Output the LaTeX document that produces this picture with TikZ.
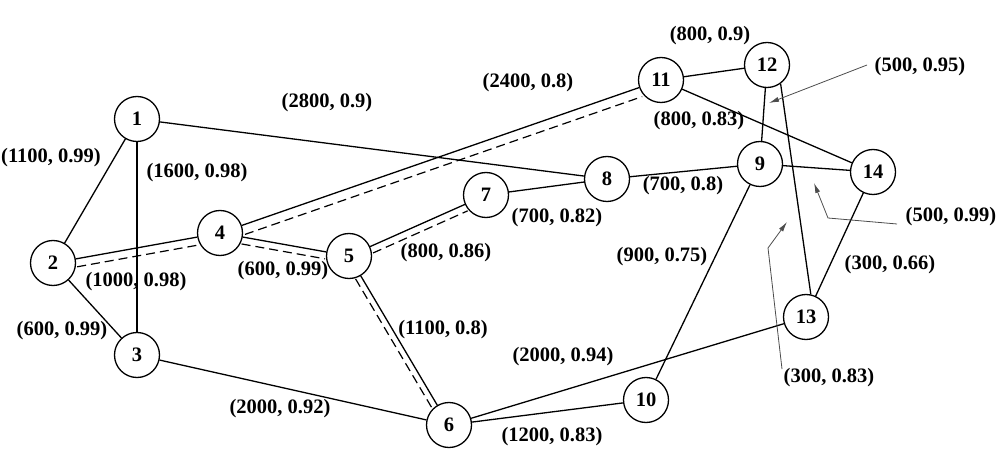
\documentclass[tikz,border=0pt]{standalone}
\usepackage{fontspec}
\setmainfont{Liberation Serif}
\usetikzlibrary{arrows.meta}
\begin{document}
\begin{tikzpicture}[x=1pt,y=-1pt,
  vertex/.style={circle,draw,line width=1.3pt,minimum size=45pt,inner sep=0pt,font=\fontsize{20.5}{24}\selectfont\bfseries},
  lbl/.style={inner sep=0pt,font=\fontsize{20.5}{24}\selectfont\bfseries},
  link/.style={line width=1.3pt},
  backup/.style={line width=1.2pt,dash pattern=on 9pt off 5pt},
  ann/.style={line width=0.8pt,draw=black!70,-{Latex[length=10pt,width=5pt]}}]
\useasboundingbox (0,0) rectangle (1001,470);
% nodes
\node[vertex] (n1) at (137,119) {1};
\node[vertex] (n2) at (53,263) {2};
\node[vertex] (n3) at (137,355) {3};
\node[vertex] (n4) at (220,233) {4};
\node[vertex] (n5) at (349,256) {5};
\node[vertex] (n6) at (449,425) {6};
\node[vertex] (n7) at (486,195) {7};
\node[vertex] (n8) at (607,179) {8};
\node[vertex] (n9) at (760,164) {9};
\node[vertex] (n10) at (646,400) {10};
\node[vertex] (n11) at (661,80) {11};
\node[vertex] (n12) at (767,65) {12};
\node[vertex] (n13) at (806,317) {13};
\node[vertex] (n14) at (873,172) {14};
% links
\draw[link] (n1) -- (n2);
\draw[link] (n1) -- (n3);
\draw[link] (n1) -- (n8);
\draw[link] (n2) -- (n3);
\draw[link] (n2) -- (n4);
\draw[link] (n4) -- (n5);
\draw[link] (n4) -- (n11);
\draw[link] (n5) -- (n7);
\draw[link] (n5) -- (n6);
\draw[link] (n3) -- (n6);
\draw[link] (n7) -- (n8);
\draw[link] (n8) -- (n9);
\draw[link] (n11) -- (n12);
\draw[link] (n11) -- (n14);
\draw[link] (n12) -- (n9);
\draw[link] (n12.-54) -- (n13.78);
\draw[link] (n9) -- (n14);
\draw[link] (n9) -- (n10);
\draw[link] (n6) -- (n13);
\draw[link] (n6) -- (n10);
\draw[link] (n14) -- (n13);
% backup (dashed) paths
\draw[backup,transform canvas={xshift=1.4pt,yshift=-7.9pt}] (n2) -- (n4);
\draw[backup,transform canvas={xshift=-1.2pt,yshift=-6.9pt}] (n4) -- (n5);
\draw[backup,transform canvas={xshift=3.1pt,yshift=-9pt}] (n4) -- (n11);
\draw[backup,transform canvas={xshift=2.9pt,yshift=-6.4pt}] (n5) -- (n7);
\draw[backup,transform canvas={xshift=-5.2pt,yshift=-3pt}] (n5) -- (n6);
% labels
\node[lbl] (l12) at (51,158) {(1100, 0.99)};
\node[lbl] (l13) at (197,173) {(1600, 0.98)};
\node[lbl] (l18) at (327,103) {(2800, 0.9)};
\node[lbl] (l411) at (528,83) {(2400, 0.8)};
\node[lbl] (l1112) at (710,36) {(800, 0.9)};
\node[lbl] (l129) at (920,67) {(500, 0.95)};
\node[lbl] (l1114) at (699,121) {(800, 0.83)};
\node[lbl] (l89) at (683,186) {(700, 0.8)};
\node[lbl] (l78) at (557,218) {(700, 0.82)};
\node[lbl] (l24) at (136,282) {(1000, 0.98)};
\node[lbl] (l45) at (283,271) {(600, 0.99)};
\node[lbl] (l57) at (446,253) {(800, 0.86)};
\node[lbl] (l23) at (62,331) {(600, 0.99)};
\node[lbl] (l36) at (280,409) {(2000, 0.92)};
\node[lbl] (l56) at (443,330) {(1100, 0.8)};
\node[lbl] (l613) at (563,357) {(2000, 0.94)};
\node[lbl] (l610) at (552,437) {(1200, 0.83)};
\node[lbl] (l1213) at (829,378) {(300, 0.83)};
\node[lbl] (l910) at (662,257) {(900, 0.75)};
\node[lbl] (l1413) at (890,265) {(300, 0.66)};
\node[lbl] (l914) at (951,217) {(500, 0.99)};
% annotation arrows
\coordinate (t129) at (769,103);
\coordinate (s129) at (867,65);
\draw[ann] (s129) -- (t129);
\coordinate (s914) at (897,224);
\coordinate (b914) at (828,218);
\coordinate (t914) at (814,183);
\draw[ann] (s914) -- (b914) -- (t914);
\coordinate (s1213) at (782,369);
\coordinate (b1213) at (768,248);
\coordinate (t1213) at (787,222);
\draw[ann] (s1213) -- (b1213) -- (t1213);
\end{tikzpicture}
\end{document}
